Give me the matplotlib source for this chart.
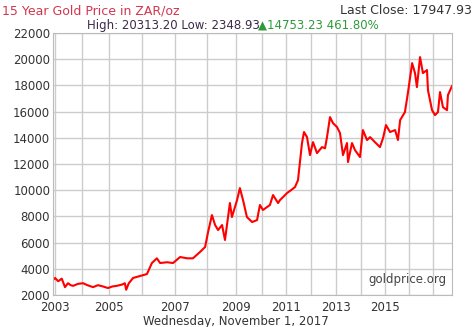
import numpy as np
import matplotlib.pyplot as plt
from matplotlib.ticker import FixedLocator

# year boundaries on the chart's (uneven) time axis
year_marks = [2003, 2004, 2005, 2006, 2007, 2008, 2009, 2010, 2011,
              2012, 2013, 2014, 2015, 2016, 2017, 2017.84]
year_slots = [55, 82, 109, 142, 175, 207, 236, 262, 286,
              311, 336, 361, 385, 409, 433, 452]
tick_years = [2003, 2005, 2007, 2009, 2011, 2013, 2015]

# gold price in ZAR/oz
dates = [2002.93, 2003.0, 2003.12, 2003.25, 2003.37, 2003.48, 2003.58, 2003.67,
         2003.85, 2004.04, 2004.2, 2004.41, 2004.59, 2004.78, 2004.96, 2005.1,
         2005.24, 2005.4, 2005.48, 2005.52, 2005.6, 2005.73, 2005.94, 2006.15,
         2006.3, 2006.45, 2006.55, 2006.76, 2006.94, 2007.16, 2007.38, 2007.56,
         2007.78, 2007.94, 2008.03, 2008.17, 2008.28, 2008.38, 2008.52, 2008.62,
         2008.79, 2008.86, 2009.04, 2009.15, 2009.27, 2009.42, 2009.62, 2009.81,
         2009.92, 2010.04, 2010.33, 2010.46, 2010.67, 2010.75, 2010.88, 2011.04,
         2011.2, 2011.36, 2011.48, 2011.64, 2011.72, 2011.84, 2011.96, 2012.08,
         2012.24, 2012.44, 2012.56, 2012.64, 2012.76, 2012.88, 2013.04, 2013.16,
         2013.28, 2013.44, 2013.48, 2013.64, 2013.76, 2013.96, 2014.08, 2014.25,
         2014.38, 2014.58, 2014.79, 2014.92, 2015.04, 2015.21, 2015.42, 2015.54,
         2015.63, 2015.83, 2015.96, 2016.13, 2016.25, 2016.33, 2016.46, 2016.58,
         2016.75, 2016.79, 2016.96, 2017.09, 2017.22, 2017.31, 2017.44, 2017.62,
         2017.66, 2017.84]
prices = [3140, 3300, 3050, 3250, 2600, 2900, 2750, 2700,
          2850, 2900, 2750, 2600, 2750, 2650, 2530, 2650,
          2700, 2800, 2900, 2400, 2900, 3300, 3450, 3600,
          4440, 4800, 4440, 4500, 4440, 4900, 4800, 4800,
          5280, 5660, 6730, 8100, 7340, 6960, 7340, 6200,
          9020, 7950, 9250, 10160, 9250, 7950, 7570, 7720,
          8870, 8490, 8870, 9630, 9020, 9250, 9480, 9780,
          10000, 10240, 10770, 13600, 14440, 14050, 12680, 13670,
          12830, 13290, 13200, 14050, 15580, 15120, 14820, 14360,
          12680, 13600, 12150, 13600, 13060, 12530, 14590, 13830,
          14050, 13670, 13290, 13980, 14970, 14440, 14590, 13830,
          15350, 15960, 17490, 19700, 18940, 17870, 20160, 18940,
          19170, 17640, 16110, 15730, 15960, 17490, 16340, 16110,
          17260, 17950]


def fwd(x):
    return np.interp(x, year_marks, year_slots, left=53, right=452)


def inv(x):
    return np.interp(x, year_slots, year_marks)


fig = plt.figure(figsize=(4.74, 3.27), dpi=100)
ax = fig.add_axes([53 / 474, 32 / 327, 399 / 474, 262 / 327])

ax.set_xscale('function', functions=(fwd, inv))
ax.plot(dates, prices, color='#ff0000', linewidth=1.5)

ax.set_xlim(2002.93, 2017.84)
ax.set_ylim(2000, 22000)
ax.xaxis.set_major_locator(FixedLocator(tick_years))
ax.xaxis.set_minor_locator(FixedLocator(year_marks[:-1]))
ax.set_xticklabels([str(y) for y in tick_years])
ax.set_yticks(range(2000, 22001, 2000))
ax.grid(True, which='both', axis='x', color='#cccccc', linewidth=1)
ax.grid(True, axis='y', color='#cccccc', linewidth=1)
ax.tick_params(which='both', length=0, labelsize=8.5, colors='#333333', pad=2)
ax.tick_params(axis='x', pad=4)
for s in ax.spines.values():
    s.set_color('#bbbbbb')

ax.text(0.985, 0.035, 'goldprice.org', transform=ax.transAxes, ha='right',
        va='bottom', fontsize=8.5, color='#444444')

fig.text(2 / 474, 1 - 11 / 327, '15 Year Gold Price in ZAR/oz', fontsize=9,
         color='#d2364f', va='center')
fig.text(472 / 474, 1 - 11 / 327, 'Last Close: 17947.93', fontsize=9,
         color='#333333', ha='right', va='center')
fig.text(87 / 474, 1 - 25 / 327, 'High: 20313.20 Low: 2348.93', fontsize=8.5,
         color='#3b2a4a', va='center')
fig.text(258 / 474, 1 - 25 / 327, '\u25b214753.23 461.80%', fontsize=8.5,
         color='#2e9a3a', va='center')
fig.text(236 / 474, 1 - 321 / 327, 'Wednesday, November 1, 2017', fontsize=8.5,
         color='#333333', ha='center', va='center')

fig.savefig('out.png', dpi=100, facecolor='white')
